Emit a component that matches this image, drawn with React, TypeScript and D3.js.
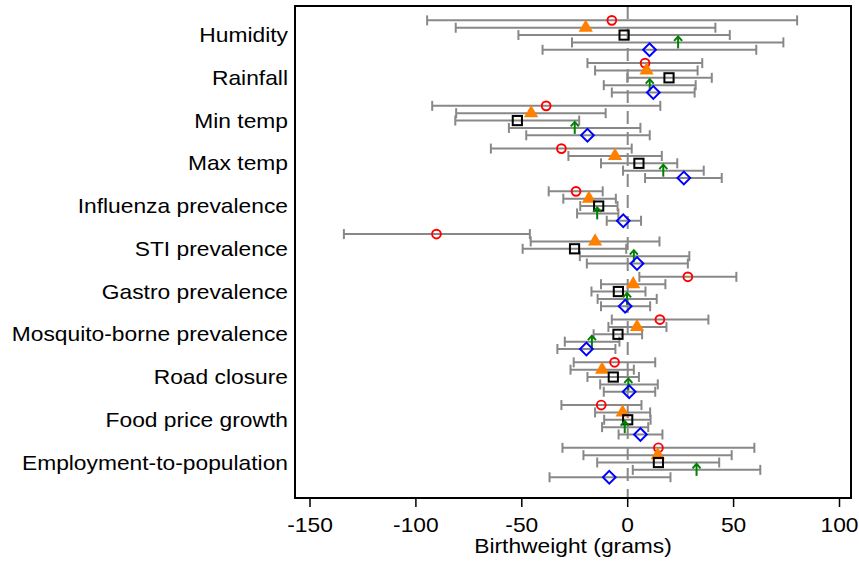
import React from 'react';
import * as d3 from 'd3';

const categories = [
  'Humidity', 'Rainfall', 'Min temp', 'Max temp', 'Influenza prevalence', 'STI prevalence',
  'Gastro prevalence', 'Mosquito-borne prevalence', 'Road closure', 'Food price growth',
  'Employment-to-population',
];

// point estimates and CI (lo, hi) per series, one value per category
const redEst = [-7.5, 8.2, -38.5, -31.3, -24.4, -90.3, 28.4, 15.2, -6.2, -12.5, 14.5];
const redLo = [-94.7, -19, -92.3, -64.6, -37.3, -134, 5.5, -7.5, -25.5, -31.3, -30.8];
const redHi = [80, 35.2, 15.4, 1.9, -11.8, -46.2, 51.3, 38.1, 13, 6.5, 59.8];

const orangeEst = [-19.8, 8.9, -45.6, -6, -18.3, -15.4, 2.6, 4.4, -12.1, -2.4, 14.2];
const orangeLo = [-81.2, -15.4, -81, -28, -30.4, -45.8, -12.6, -9.1, -27, -15.4, -20.9];
const orangeHi = [41.4, 33, -10.4, 16.1, -5.6, 15, 17.8, 18.3, 2.9, 10.6, 49.1];

const blackEst = [-1.7, 19.5, -52.1, 5.3, -13.7, -25.1, -4.4, -4.6, -6.8, 0, 14.5];
const blackLo = [-51.6, -0.2, -81.4, -12.6, -22.4, -49.6, -17.1, -16.1, -19, -11.1, -14.4];
const blackHi = [48.2, 39.7, -22.9, 23.4, -4.8, -0.7, 8.4, 6.8, 5.3, 10.8, 43.2];

const greenEst = [23.8, 10.4, -25, 16.8, -14.4, 2.9, -0.3, -16.9, 0.3, -1.4, 32.5];
const greenLo = [-26.3, -11.3, -56.1, -2.2, -23.9, -22.6, -14.2, -29.7, -13, -12.1, 2.4];
const greenHi = [73.5, 32.1, 6, 35.9, -4.4, 29.1, 13.7, -3.9, 14.2, 9.7, 62.6];

const blueEst = [10.3, 12.1, -19, 26.5, -2.1, 4.4, -1.2, -19.5, 0.7, 6, -8.7];
const blueLo = [-40.2, -7.5, -47.9, 8.2, -9.9, -19.3, -12.6, -33.2, -11.3, -4.3, -36.9];
const blueHi = [60.7, 31.6, 10.4, 44.4, 6.3, 28.4, 10.6, -5.8, 13, 16.4, 20.2];

const xTicks = [-150, -100, -50, 0, 50, 100];

const series = [
  { key: 'red', est: redEst, lo: redLo, hi: redHi, offset: -2 },
  { key: 'orange', est: orangeEst, lo: orangeLo, hi: orangeHi, offset: -1 },
  { key: 'black', est: blackEst, lo: blackLo, hi: blackHi, offset: 0 },
  { key: 'green', est: greenEst, lo: greenLo, hi: greenHi, offset: 1 },
  { key: 'blue', est: blueEst, lo: blueLo, hi: blueHi, offset: 2 },
];

const W = 859;
const H = 561;
const left = 295, right = 851, top = 6, bottom = 498;
const step = 0.172;
const font = '"Liberation Sans", Arial, sans-serif';
const stretch = 1.14; // reference text is a bit wider than Liberation Sans

const triPath = d3.symbol().type(d3.symbolTriangle).size(88)();

const Marker = ({ kind, x, y }) => {
  if (kind === 'red') return <circle cx={x} cy={y} r={4.4} fill="none" stroke="#ff0000" strokeWidth={1.9} />;
  if (kind === 'orange') return <path d={triPath} transform={`translate(${x},${y})`} fill="#ff8000" />;
  if (kind === 'black') return <rect x={x - 4.6} y={y - 4.6} width={9.2} height={9.2} fill="none" stroke="#000" strokeWidth={2} />;
  if (kind === 'blue') return <rect x={x - 4.5} y={y - 4.5} width={9} height={9} fill="none" stroke="#0000ff" strokeWidth={2} transform={`rotate(45,${x},${y})`} />;
  // green up arrow
  return (
    <g stroke="#008000" strokeWidth={2} fill="none">
      <line x1={x} y1={y + 6} x2={x} y2={y - 5} />
      <polyline points={`${x - 4},${y - 1.5} ${x},${y - 6} ${x + 4},${y - 1.5}`} />
    </g>
  );
};

const Label = ({ x, y, anchor, size, children }) => (
  <text transform={`translate(${x},${y}) scale(${stretch},1)`} textAnchor={anchor} fontSize={size} fill="#000">{children}</text>
);

export default function App() {
  const x = d3.scaleLinear().domain([-150, 100]).range([310, 839.5]);
  const y = d3.scaleLinear().domain([-0.68, 10.83]).range([top, bottom]);

  return (
    <svg width={W} height={H} style={{ position: 'absolute', left: 0, top: 0, background: '#fff' }} fontFamily={font}>
      <line x1={x(0)} x2={x(0)} y1={top} y2={bottom} stroke="#888" strokeWidth={2} strokeDasharray="13,8" />
      {series.map((s) =>
        categories.map((c, i) => {
          const yy = y(i + s.offset * step);
          const x1 = x(s.lo[i]);
          const x2 = x(s.hi[i]);
          return (
            <g key={s.key + c} stroke="#888" strokeWidth={2}>
              <line x1={x1} x2={x2} y1={yy} y2={yy} />
              <line x1={x1} x2={x1} y1={yy - 5} y2={yy + 5} />
              <line x1={x2} x2={x2} y1={yy - 5} y2={yy + 5} />
            </g>
          );
        })
      )}
      {series.map((s) =>
        categories.map((c, i) => (
          <Marker key={'m' + s.key + c} kind={s.key} x={x(s.est[i])} y={y(i + s.offset * step)} />
        ))
      )}
      <rect x={left} y={top} width={right - left} height={bottom - top} fill="none" stroke="#000" strokeWidth={2} />
      {categories.map((c, i) => (
        <Label key={c} x={288} y={y(i) + 7} anchor="end" size={20}>{c}</Label>
      ))}
      {xTicks.map((t) => (
        <g key={t}>
          <line x1={x(t)} x2={x(t)} y1={bottom} y2={bottom + 9} stroke="#000" strokeWidth={1.5} />
          <Label x={x(t)} y={532} anchor="middle" size={20}>{t}</Label>
        </g>
      ))}
      <Label x={(left + right) / 2} y={553} anchor="middle" size={20}>Birthweight (grams)</Label>
    </svg>
  );
}
